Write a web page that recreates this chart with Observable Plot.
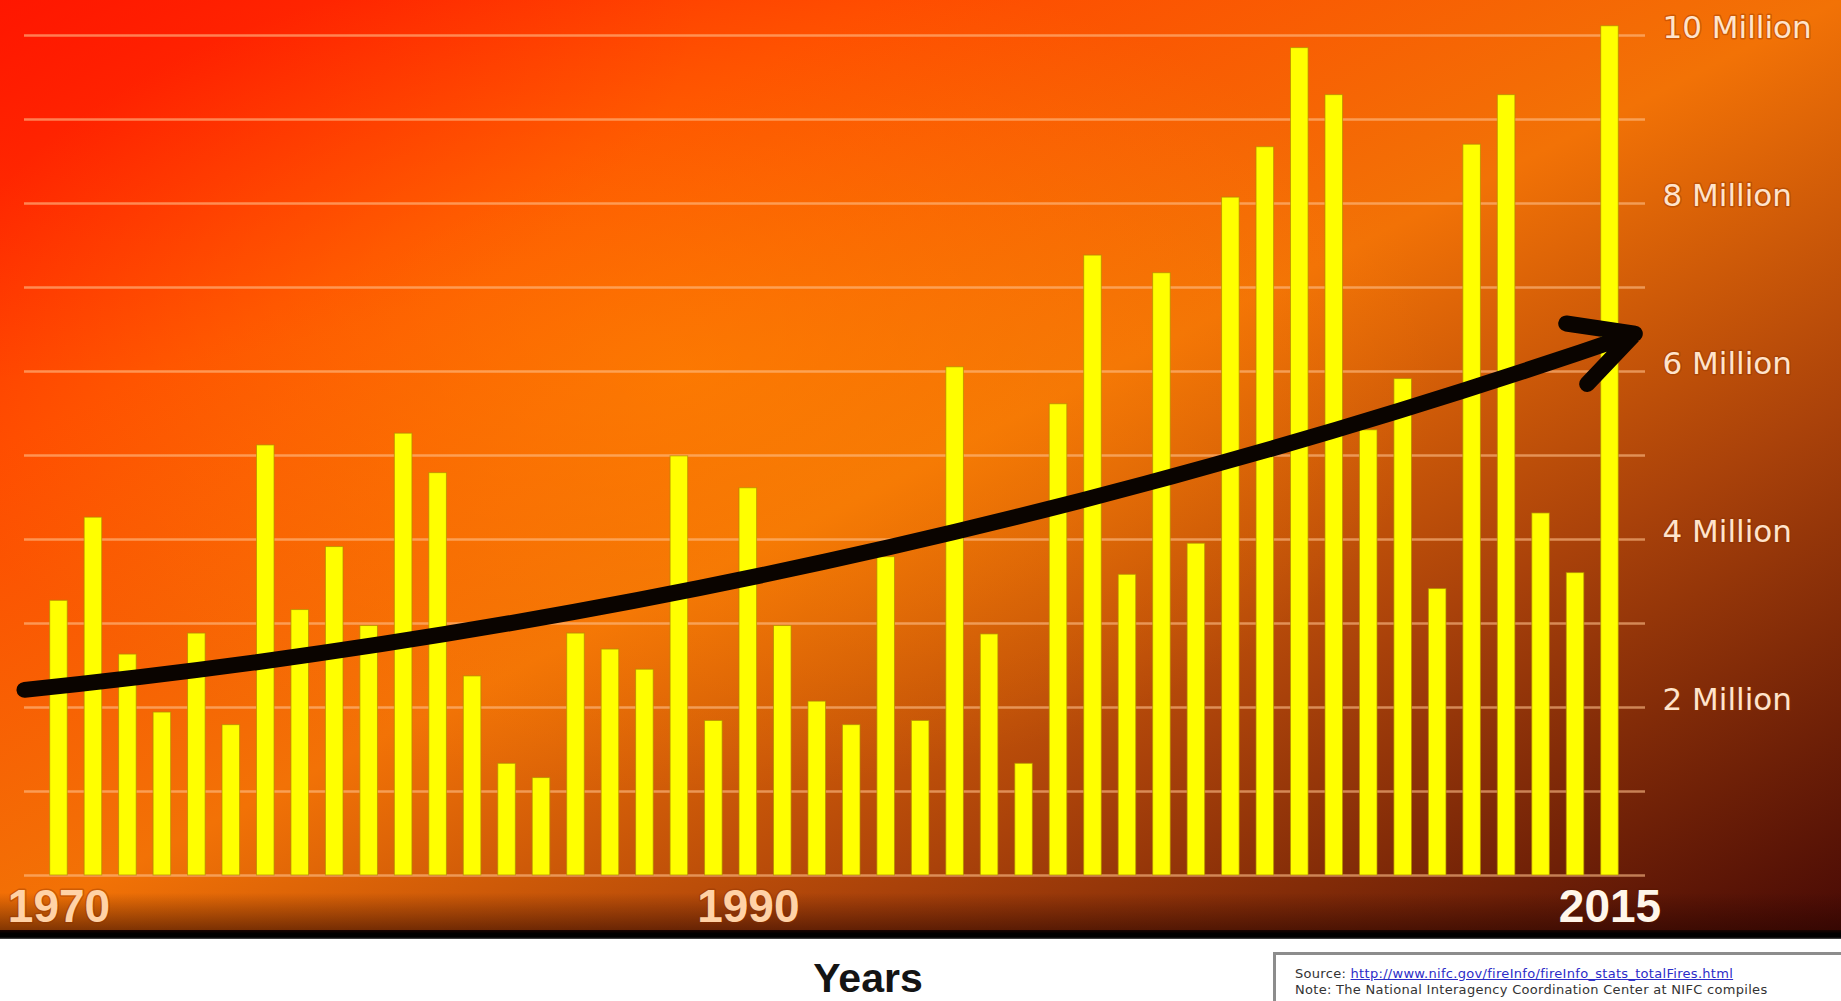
<!DOCTYPE html>
<html>
<head>
<meta charset="utf-8">
<script src="https://cdn.jsdelivr.net/npm/d3@7"></script>
<script src="https://cdn.jsdelivr.net/npm/@observablehq/plot@0.6"></script>
<style>
  html, body { margin: 0; padding: 0; background: #ffffff; overflow: hidden; }
  #page { position: relative; width: 1841px; height: 1001px; overflow: hidden; }
  #chart {
    position: absolute; left: 0; top: 0; width: 1841px; height: 930px;
    background:
      radial-gradient(ellipse 760px 420px at 37% 40%, rgba(255,140,0,0.55), rgba(255,140,0,0) 100%),
      radial-gradient(ellipse 700px 380px at 0% 0%, rgba(255,20,0,0.55), rgba(255,20,0,0) 100%),
      linear-gradient(to bottom, rgba(0,0,0,0) 96%, rgba(40,5,0,0.55) 100%),
      linear-gradient(to bottom right, #ff1a00 0%, #ff4a00 24%, #f27206 50%, #aa420a 72%, #480a05 100%);
  }
  #band { position: absolute; left: 0; top: 930px; width: 1841px; height: 9px;
          background: linear-gradient(to bottom, #1a0300, #000 40%, #000 80%, #555); }
  #xtitle { position: absolute; left: 668px; top: 958px; width: 400px; text-align: center;
            font-family: "Liberation Sans", Arial, sans-serif; font-weight: bold; font-size: 41px;
            line-height: 41px; color: #141414; }
  #source { position: absolute; left: 1273px; top: 952px; width: 640px; height: 80px;
            border-top: 3px solid #8c8c8c; border-left: 3px solid #8c8c8c; background: #fff;
            font-family: "DejaVu Sans", sans-serif; font-size: 13px; line-height: 16px;
            color: #333; padding: 11px 0 0 19px; white-space: nowrap; letter-spacing: 0.3px; }
  #source a { color: #2c2cc8; text-decoration: underline; }
</style>
</head>
<body>
<div id="page">
  <div id="chart"></div>
  <div id="band"></div>
  <div id="xtitle">Years</div>
  <div id="source">Source: <a>http://www.nifc.gov/fireInfo/fireInfo_stats_totalFires.html</a><br>Note: The National Interagency Coordination Center at NIFC compiles</div>
</div>
<script>
// Years shown on the chart
const years = [1970,1971,1972,1973,1974,1975,1976,1977,1978,1979,
               1980,1981,1982,1983,1984,1985,1986,1987,1988,1989,
               1990,1991,1992,1993,1994,1995,1996,1997,1998,1999,
               2000,2001,2002,2003,2004,2005,2006,2007,2008,2009,
               2010,2011,2012,2013,2014,2015];
// Acres burned, in millions
const acresMillions = [3.27,4.26,2.63,1.94,2.88,1.79,5.12,3.16,3.91,2.97,
                       5.26,4.79,2.37,1.33,1.16,2.88,2.69,2.45,4.99,1.84,
                       4.61,2.97,2.07,1.79,3.79,1.84,6.05,2.87,1.33,5.61,
                       7.38,3.58,7.17,3.95,8.07,8.67,9.85,9.29,5.30,5.91,
                       3.41,8.70,9.29,4.31,3.60,10.11];
// Trend arrow endpoints (year, millions)
const trendStart = [1969, 2.21];
const trendEnd = [2015.72, 6.45];
// Axis ticks
const gridTicks = [0,1,2,3,4,5,6,7,8,9,10];
const yLabelTicks = [2,4,6,8,10];
const xLabelTicks = [1970,1990];
const xLastTick = [2015];

const data = years.map((year, i) => ({year, acres: acresMillions[i]}));
const trend = [{x1: trendStart[0], y1: trendStart[1], x2: trendEnd[0], y2: trendEnd[1]}];

const half = 0.255;
const chart = Plot.plot({
  width: 1841,
  height: 930,
  marginTop: 35,
  marginBottom: 55,
  marginLeft: 24,
  marginRight: 196,
  style: {background: "transparent", overflow: "visible", fontFamily: "Liberation Sans, Arial, sans-serif"},
  x: {type: "linear", domain: [1969, 2016.03]},
  y: {domain: [0, 10]},
  marks: [
    Plot.gridY(gridTicks, {stroke: "#ffc08a", strokeOpacity: 0.6, strokeWidth: 2.5}),
    Plot.rectY(data, {x1: d => d.year - half, x2: d => d.year + half, y1: 0, y2: "acres",
                      fill: "#ffff00", stroke: "#b08a00", strokeWidth: 1, strokeOpacity: 0.7}),
    Plot.arrow(trend, {x1: "x1", y1: "y1", x2: "x2", y2: "y2", bend: -6.6,
                       stroke: "#0a0400", strokeWidth: 16, headAngle: 55, headLength: 6.5}),
    Plot.axisY(yLabelTicks, {anchor: "right", tickSize: 0, tickPadding: 17, dy: -7, label: null,
                             tickFormat: d => `${d} Million`, fontSize: 31, fill: "#ffe4cc",
                             fontFamily: "DejaVu Sans, sans-serif",
                             textStroke: "#8a3000", textStrokeOpacity: 0.35, textStrokeWidth: 3}),
    Plot.axisX(xLabelTicks, {anchor: "bottom", tickSize: 0, tickPadding: 14, label: null,
                             tickFormat: d => String(d), fontSize: 46, fontWeight: "bold", fill: "#ffd2a6",
                             textStroke: "#8a3000", textStrokeOpacity: 0.35, textStrokeWidth: 3}),
    Plot.axisX(xLastTick, {anchor: "bottom", tickSize: 0, tickPadding: 14, label: null,
                           tickFormat: d => String(d), fontSize: 46, fontWeight: "bold", fill: "#fff6ea",
                           textStroke: "#5a1800", textStrokeOpacity: 0.35, textStrokeWidth: 3})
  ]
});
document.getElementById("chart").appendChild(chart);
</script>
</body>
</html>
